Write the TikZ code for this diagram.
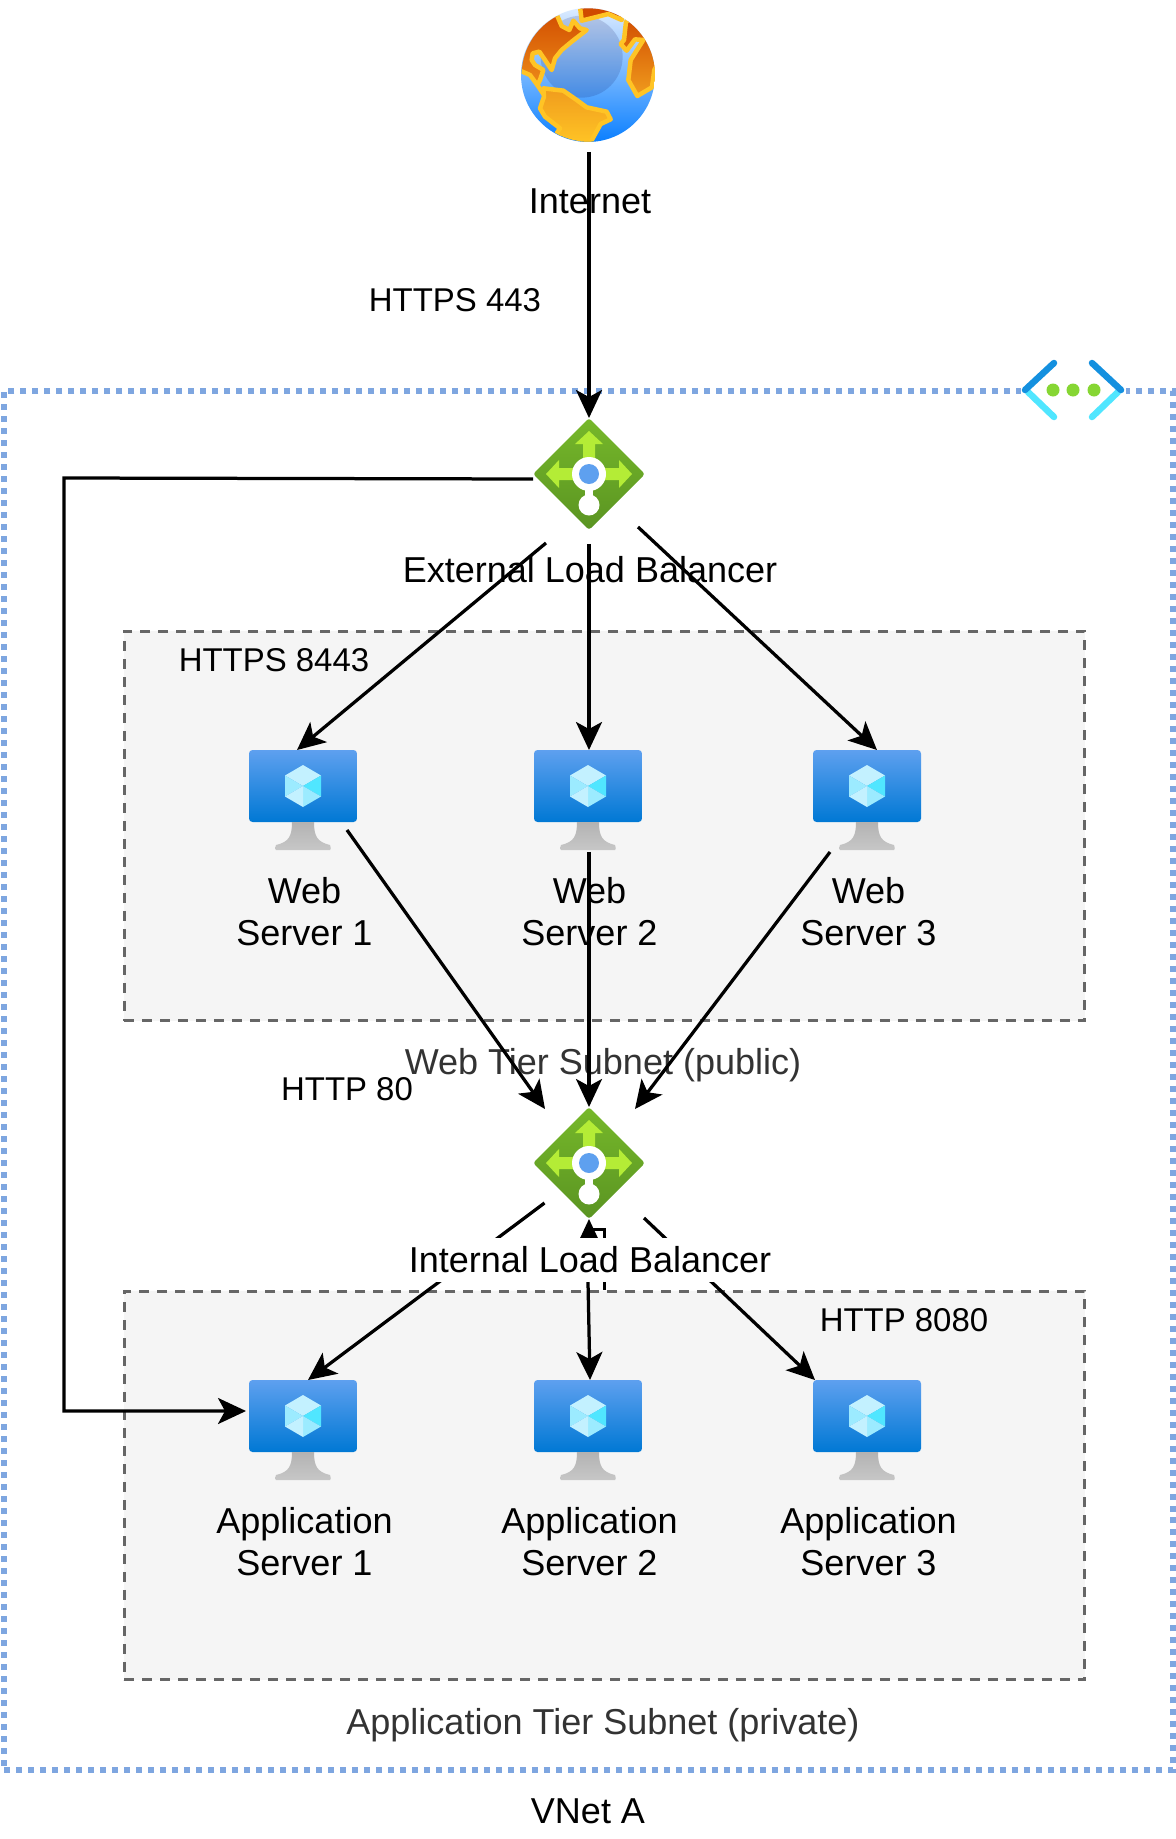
\documentclass[tikz,border=0pt]{standalone}
\usepackage{fontspec}
\setmainfont{Liberation Sans}
\usepackage{xcolor}
\usetikzlibrary{arrows.meta,shapes.geometric}
\definecolor{vnet-blue}{HTML}{7EA6E0}
\definecolor{subnet-bg}{HTML}{F5F5F5}
\definecolor{subnet-line}{HTML}{666666}
\definecolor{subnet-text}{HTML}{333333}
\definecolor{coast}{HTML}{FFC425}
\definecolor{lb-top}{HTML}{76B82A}
\definecolor{lb-bottom}{HTML}{5A9422}
\definecolor{lb-arrow}{HTML}{B4EC36}
\definecolor{lb-dot}{HTML}{5EA0EF}
\definecolor{vm-top}{HTML}{5EA0EF}
\definecolor{vm-bottom}{HTML}{0078D4}
\definecolor{vnet-mark}{HTML}{1490DF}
\definecolor{dot-green}{HTML}{86D633}
\definecolor{cube-a}{HTML}{C3F1FF}
\definecolor{cube-b}{HTML}{9CEBFF}
\definecolor{cube-c}{HTML}{50E6FF}
\definecolor{sea-top}{HTML}{DCEBFF}
\definecolor{sea-mid}{HTML}{5AA8FF}
\definecolor{sea-bottom}{HTML}{0A7FFF}
\definecolor{land-red}{HTML}{D04A00}
\definecolor{land-orange}{HTML}{EC8A18}
\definecolor{land-gold}{HTML}{F09C1D}
\begin{document}
\begin{tikzpicture}[x=0.02cm, y=-0.02cm,
    biglabel/.style={font=\fontsize{20.5}{23.8}\selectfont, align=center, inner sep=0pt},
    smalllabel/.style={font=\fontsize{18.75}{22}\selectfont, inner sep=0pt},
    subnetlabel/.style={biglabel, text=subnet-text},
    subnetbox/.style={draw=subnet-line, fill=subnet-bg, line width=0.06cm,
      dash pattern=on 0.2cm off 0.16cm, minimum width=19.22cm, inner sep=0pt},
    lbnode/.style={diamond, aspect=1, minimum width=2.24cm, minimum height=2.24cm,
      inner sep=0pt, outer sep=0pt, rounded corners=0.06cm,
      top color=lb-top, bottom color=lb-bottom},
    vmscreen/.style={rectangle, minimum width=2.16cm, minimum height=1.44cm, inner sep=0pt,
      outer sep=0pt, rounded corners=0.07cm, top color=vm-top, bottom color=vm-bottom},
    link/.style={draw=black, line width=0.065cm,
      -{Stealth[length=0.56cm,width=0.52cm,inset=0.14cm]}},
    vmicon/.pic={
      \path[top color=black!30, middle color=black!50, bottom color=black!22]
        (-11,36) -- (11,36) .. controls (11,50) and (14,56) .. (27,59)
        .. controls (28,62) and (28,64) .. (27,64) -- (-27,64)
        .. controls (-28,64) and (-28,62) .. (-27,59)
        .. controls (-14,56) and (-11,50) .. (-11,36) -- cycle;
      \fill[cube-a] (0,-21) -- (18,-10.5) -- (0,0) -- (-18,-10.5) -- cycle;
      \fill[cube-c] (18,-10.5) -- (18,10.5) -- (0,0) -- cycle;
      \fill[cube-b] (-18,-10.5) -- (-18,10.5) -- (0,0) -- cycle;
      \fill[cube-b] (0,0) -- (18,10.5) -- (0,21) -- cycle;
      \fill[cube-a] (0,0) -- (0,21) -- (-18,10.5) -- cycle;
    },
    lbicon/.pic={
      % three arrows, then the white key shape with its blue dot
      \fill[lb-arrow] (-6,-30) -- (-14,-30) -- (0,-43) -- (14,-30) -- (6,-30) -- (6,0) -- (-6,0) -- cycle;
      \fill[lb-arrow] (-30,-6) -- (-30,-14) -- (-43,0) -- (-30,14) -- (-30,6) -- (30,6) -- (30,14) -- (43,0) -- (30,-14) -- (30,-6) -- cycle;
      \fill[white] (-4,0) rectangle (4,30);
      \fill[white] (0,0) circle (17);
      \fill[white] (0,31) circle (10.5);
      \fill[lb-dot] (0,0) circle (10);
    },
    vnetmark/.pic={
      \draw[cube-c, line width=0.13cm, line cap=round] (-45,2) -- (-19,27);
      \draw[cube-c, line width=0.13cm, line cap=round] (45,2) -- (19,27);
      \draw[vnet-mark, line width=0.13cm, line cap=round] (-48,0) -- (-19,-27);
      \draw[vnet-mark, line width=0.13cm, line cap=round] (48,0) -- (19,-27);
      \foreach \dotx in {-20,0,21} { \fill[dot-green] (\dotx,0) circle (6.5); }
    }]
  % Diagram: pixel coordinates of the 1176x1839 sheet, y running down.
  % Text goes under the connectors; only the internal balancer label is
  % drawn over them, with a white box that hides their middle part.
  \useasboundingbox (0,0) rectangle (1176,1839);

  \node[draw=vnet-blue, line width=0.12cm, dash pattern=on 0.12cm off 0.12cm,
        minimum width=23.38cm, minimum height=27.6cm, inner sep=0pt] (vnet) at (588.5,1080.5) {};
  \node[fill=white, minimum width=2.1cm, minimum height=1.3cm, inner sep=0pt] (vneticon) at (1073,390) {};
  \pic at (vneticon) {vnetmark};
  \node[subnetbox, minimum height=7.8cm] (websubnet) at (604.5,826) {};
  \node[subnetbox, minimum height=7.78cm] (appsubnet) at (604.5,1485.5) {};

  % globe, traced in the pixels of a 3x crop starting at (480,0)
  \node[circle, minimum size=2.68cm, inner sep=0pt, outer sep=0pt,
        top color=sea-top, middle color=sea-mid, bottom color=sea-bottom] (globe) at (588,75) {};
  \begin{scope}[shift={(480,0)}, x=0.00667cm, y=-0.00667cm]
    \clip (325,225) circle (200);
    \fill[black!70!blue, opacity=0.14] (305,170) circle (123);
    \begin{scope}[draw=coast, line width=0.09cm, line join=round]
      \path[draw, top color=land-red, bottom color=land-orange]
        (120,212) -- (150,225) -- (172,255) -- (180,240) -- (190,210) -- (165,195) -- (155,180)
        -- (158,160) -- (178,155) -- (195,180) -- (215,210) -- (225,175) -- (245,150) -- (275,125)
        -- (320,90) -- (300,85) -- (280,62) -- (268,90) -- (245,78) -- (232,48) -- (200,20) -- (100,60) -- cycle;
      \path[draw, top color=land-gold, bottom color=coast]
        (190,265) -- (250,272) -- (290,300) -- (320,322) -- (380,335) -- (392,358) -- (362,372)
        -- (330,430) -- (250,430) -- (230,400) -- (240,385) -- (195,350) -- (180,325) -- (192,290) -- cycle;
      \path[draw, fill=land-red]
        (300,20) -- (305,62) -- (385,42) -- (425,60) -- (430,0) -- (290,0) -- cycle;
      \path[draw, top color=land-red, bottom color=land-gold]
        (438,65) -- (432,120) -- (422,132) -- (440,152) -- (465,118) -- (490,120) -- (452,180)
        -- (445,240) -- (472,288) -- (516,262) -- (523,210) -- (540,180) -- (480,40) -- cycle;
      \draw (172,255) -- (192,285);
    \end{scope}
  \end{scope}

  \node[lbnode] (elb) at (589,474) {};
  \pic at (elb) {lbicon};
  \node[lbnode] (ilb) at (589,1163) {};
  \pic at (ilb) {lbicon};

  \foreach \i/\x in {1/303,2/588,3/867} {
    \node[vmscreen] (web\i) at (\x,786) {};
    \pic at (web\i) {vmicon};
    \node[biglabel] (weblabel\i) at (\x+1.5,912) {Web\\Server \i};
    \node[vmscreen] (app\i) at (\x,1416) {};
    \pic at (app\i) {vmicon};
    \node[biglabel] (applabel\i) at (\x+1.5,1542) {Application\\Server \i};
  }

  \node[biglabel] (internetlabel) at (590,201) {Internet};
  \node[smalllabel] (https443) at (455,300) {HTTPS 443};
  \node[biglabel] (elblabel) at (590,570) {External Load Balancer};
  \node[smalllabel] (https8443) at (274,660) {HTTPS 8443};
  \node[subnetlabel] (weblabel) at (603,1065) {Web Tier Subnet (public)};
  \node[smalllabel] (http80) at (347,1089) {HTTP 80};
  \node[smalllabel] (http8080) at (904,1320) {HTTP 8080};
  \node[subnetlabel] (applabel) at (603,1725) {Application Tier Subnet (private)};
  \node[biglabel] (vnetlabel) at (588,1811) {VNet A};

  \coordinate (railtop) at (64,478);
  \coordinate (railbottom) at (64,1411);

  \draw[link] ([yshift=-0.2cm]globe.south -| elb.north) -- (elb.north);
  \draw[link] ([yshift=-0.1cm]elb.west) -- (railtop) -- (railbottom) -- ([xshift=-0.06cm,yshift=0.1cm]app1.west);
  \draw[link] ([xshift=-0.86cm,yshift=-0.26cm]elb.south) -- ([xshift=-0.12cm]web1.north);
  \draw[link] ([yshift=-0.28cm]elb.south) -- (web2.north -| elb.south);
  \draw[link] ([xshift=0.98cm,yshift=0.06cm]elb.south) -- ([xshift=0.2cm]web3.north);
  \draw[link] ([xshift=-0.2cm,yshift=-0.16cm]web1.south east) -- ([xshift=-0.88cm,yshift=-0.04cm]ilb.north);
  \draw[link] ([yshift=-0.6cm]web2.south -| ilb.north) -- (ilb.north);
  \draw[link] ([xshift=0.34cm,yshift=-0.6cm]web3.south west) -- ([xshift=0.92cm,yshift=-0.04cm]ilb.north);
  \draw[link] ([xshift=-0.89cm,yshift=0.32cm]ilb.south) -- ([xshift=0.1cm]app1.north);
  \draw[link] (appsubnet.north) -- ++(0,-60) -| (ilb.south);
  \draw[link] ([xshift=-0.04cm,yshift=-0.28cm]ilb.south) -- ([xshift=0.04cm]app2.north);
  \draw[link] ([xshift=1.1cm,yshift=0.02cm]ilb.south) -- ([xshift=0.04cm]app3.north west);

  \node[biglabel, fill=white, minimum width=7.4cm, minimum height=0.88cm] (ilblabel) at (590,1260) {Internal Load Balancer};
\end{tikzpicture}
\end{document}
